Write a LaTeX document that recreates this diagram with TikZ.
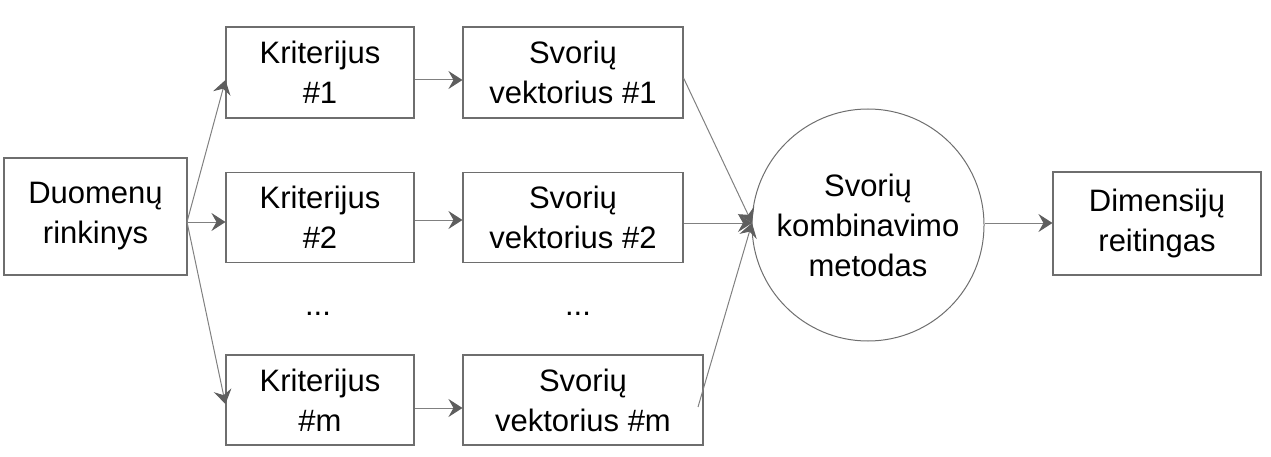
\documentclass[tikz,border=0pt]{standalone}
\usepackage{fontspec}
\setmainfont{Liberation Sans}
\usetikzlibrary{arrows.meta,shapes.geometric}
\definecolor{boxc}{HTML}{6E6E6E}
\definecolor{linec}{HTML}{808080}
\definecolor{tipc}{HTML}{5E5E5E}
\tikzset{
  lbl/.style={font=\fontsize{31}{40}\selectfont, align=center, text=black},
  bx/.style={lbl, draw=boxc, line width=1.1pt, rectangle, inner sep=0pt},
  circ/.style={lbl, draw=boxc, line width=1pt, circle, inner sep=0pt, minimum size=232pt},
  arr/.style={draw=linec, line width=1pt, -{Stealth[length=14pt,width=18pt,inset=5pt,color=tipc]}},
}
\begin{document}
\begin{tikzpicture}[x=1pt,y=-1pt]
\useasboundingbox (0,0) rectangle (1271,457);
\node[bx, minimum width=183pt, minimum height=117pt] (d) at (95.5,216.5) {Duomenų\\rinkinys};
\node[bx, minimum width=188pt, minimum height=91pt] (k1) at (320,72.5) {Kriterijus\\\#1};
\node[bx, minimum width=220pt, minimum height=91pt] (s1) at (573,72.5) {Svorių\\vektorius \#1};
\node[bx, minimum width=188pt, minimum height=90pt] (k2) at (320,217.5) {Kriterijus\\\#2};
\node[bx, minimum width=220pt, minimum height=90pt] (s2) at (573,217.5) {Svorių\\vektorius \#2};
\node[bx, minimum width=188pt, minimum height=90pt] (km) at (320,400) {Kriterijus\\\#m};
\node[bx, minimum width=240pt, minimum height=90pt] (sm) at (583,400) {Svorių\\vektorius \#m};
\node[lbl, anchor=base] (dots1) at (318,315) {...};
\node[lbl, anchor=base] (dots2) at (578,315) {...};
\node[circ] (c) at (868,225) {Svorių\\kombinavimo\\metodas};
\node[bx, minimum width=208pt, minimum height=103pt] (r) at (1157,223.5) {Dimensijų\\reitingas};
\coordinate (dj) at (187,222);
\coordinate (cin) at (752,223);
\coordinate (smout) at (698,407);
\draw[arr] (dj) -- (k1.west |- 0,80);
\draw[arr] (dj) -- (k2.west |- 0,222);
\draw[arr] (dj) -- (km.west |- 0,404);
\draw[arr] (k1.east |- 0,80) -- (s1.west |- 0,80);
\draw[arr] (k2.east |- 0,220) -- (s2.west |- 0,220);
\draw[arr] (km.east |- 0,408) -- (sm.west |- 0,408);
\draw[arr] (s1.east |- 0,78) -- (cin);
\draw[arr] (s2.east |- 0,223) -- (cin);
\draw[arr] (smout) -- (cin);
\draw[arr] (c.east |- 0,223) -- (r.west |- 0,223);
\end{tikzpicture}
\end{document}
